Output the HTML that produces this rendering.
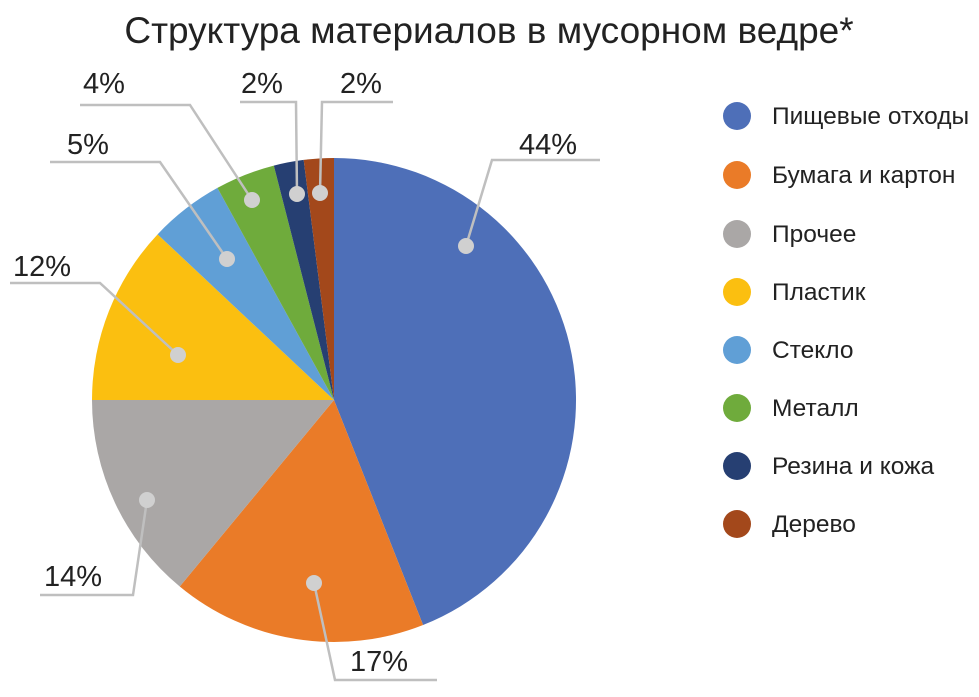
<!DOCTYPE html>
<html><head><meta charset="utf-8">
<style>
body{margin:0;background:#fff;}
svg text{font-family:"Liberation Sans","DejaVu Sans",sans-serif;fill:#222;}
</style></head>
<body>
<svg id="s" width="979" height="692" xmlns="http://www.w3.org/2000/svg">
<text x="489" y="43" text-anchor="middle" font-size="37">Структура материалов в мусорном ведре*</text>
<g id="pie"></g>
<g stroke="#bfbfbf" stroke-width="2.5" fill="none">
<polyline points="466,246 492,160 600,160"/>
<polyline points="314,583 335,680 437,680"/>
<polyline points="147,500 133,595 40,595"/>
<polyline points="178,355 100,283 10,283"/>
<polyline points="227,259 160,162 50,162"/>
<polyline points="252,200 190,105 80,105"/>
<polyline points="297,194 296,102 240,102"/>
<polyline points="320,193 322,102 393,102"/>
</g>
<g fill="#d0d0d0">
<circle cx="466" cy="246" r="8"/><circle cx="314" cy="583" r="8"/><circle cx="147" cy="500" r="8"/><circle cx="178" cy="355" r="8"/><circle cx="227" cy="259" r="8"/><circle cx="252" cy="200" r="8"/><circle cx="297" cy="194" r="8"/><circle cx="320" cy="193" r="8"/>
</g>
<g font-size="29">
<text x="519" y="154">44%</text>
<text x="350" y="671">17%</text>
<text x="44" y="586">14%</text>
<text x="13" y="276">12%</text>
<text x="67" y="154">5%</text>
<text x="83" y="93">4%</text>
<text x="241" y="93">2%</text>
<text x="340" y="93">2%</text>
</g>
<g id="leg" font-size="24.5"></g>
</svg>
<script>
var cx=334,cy=400,r=242;
var d=[[44,"#4e6fb8"],[17,"#ea7b28"],[14,"#aaa7a6"],[12,"#fbbf10"],[5,"#609fd6"],[4,"#6fab3c"],[2,"#263f72"],[2,"#a3481b"]];
var a=0,h="";
function pt(p){var t=p/100*2*Math.PI;return (cx+r*Math.sin(t)).toFixed(2)+","+(cy-r*Math.cos(t)).toFixed(2);}
d.forEach(function(s){var b=a+s[0];h+='<path d="M'+cx+','+cy+' L'+pt(a)+' A'+r+','+r+' 0 '+(s[0]>50?1:0)+' 1 '+pt(b)+' Z" fill="'+s[1]+'"/>';a=b;});
document.getElementById("pie").innerHTML=h;
var names=["Пищевые отходы","Бумага и картон","Прочее","Пластик","Стекло","Металл","Резина и кожа","Дерево"];
var ys=[116,175,234,292,350,408,466,524],g="";
names.forEach(function(n,i){g+='<circle cx="737" cy="'+ys[i]+'" r="14" fill="'+d[i][1]+'"/><text x="772" y="'+(ys[i]+8)+'">'+n+'</text>';});
document.getElementById("leg").innerHTML=g;
</script>
</body></html>
